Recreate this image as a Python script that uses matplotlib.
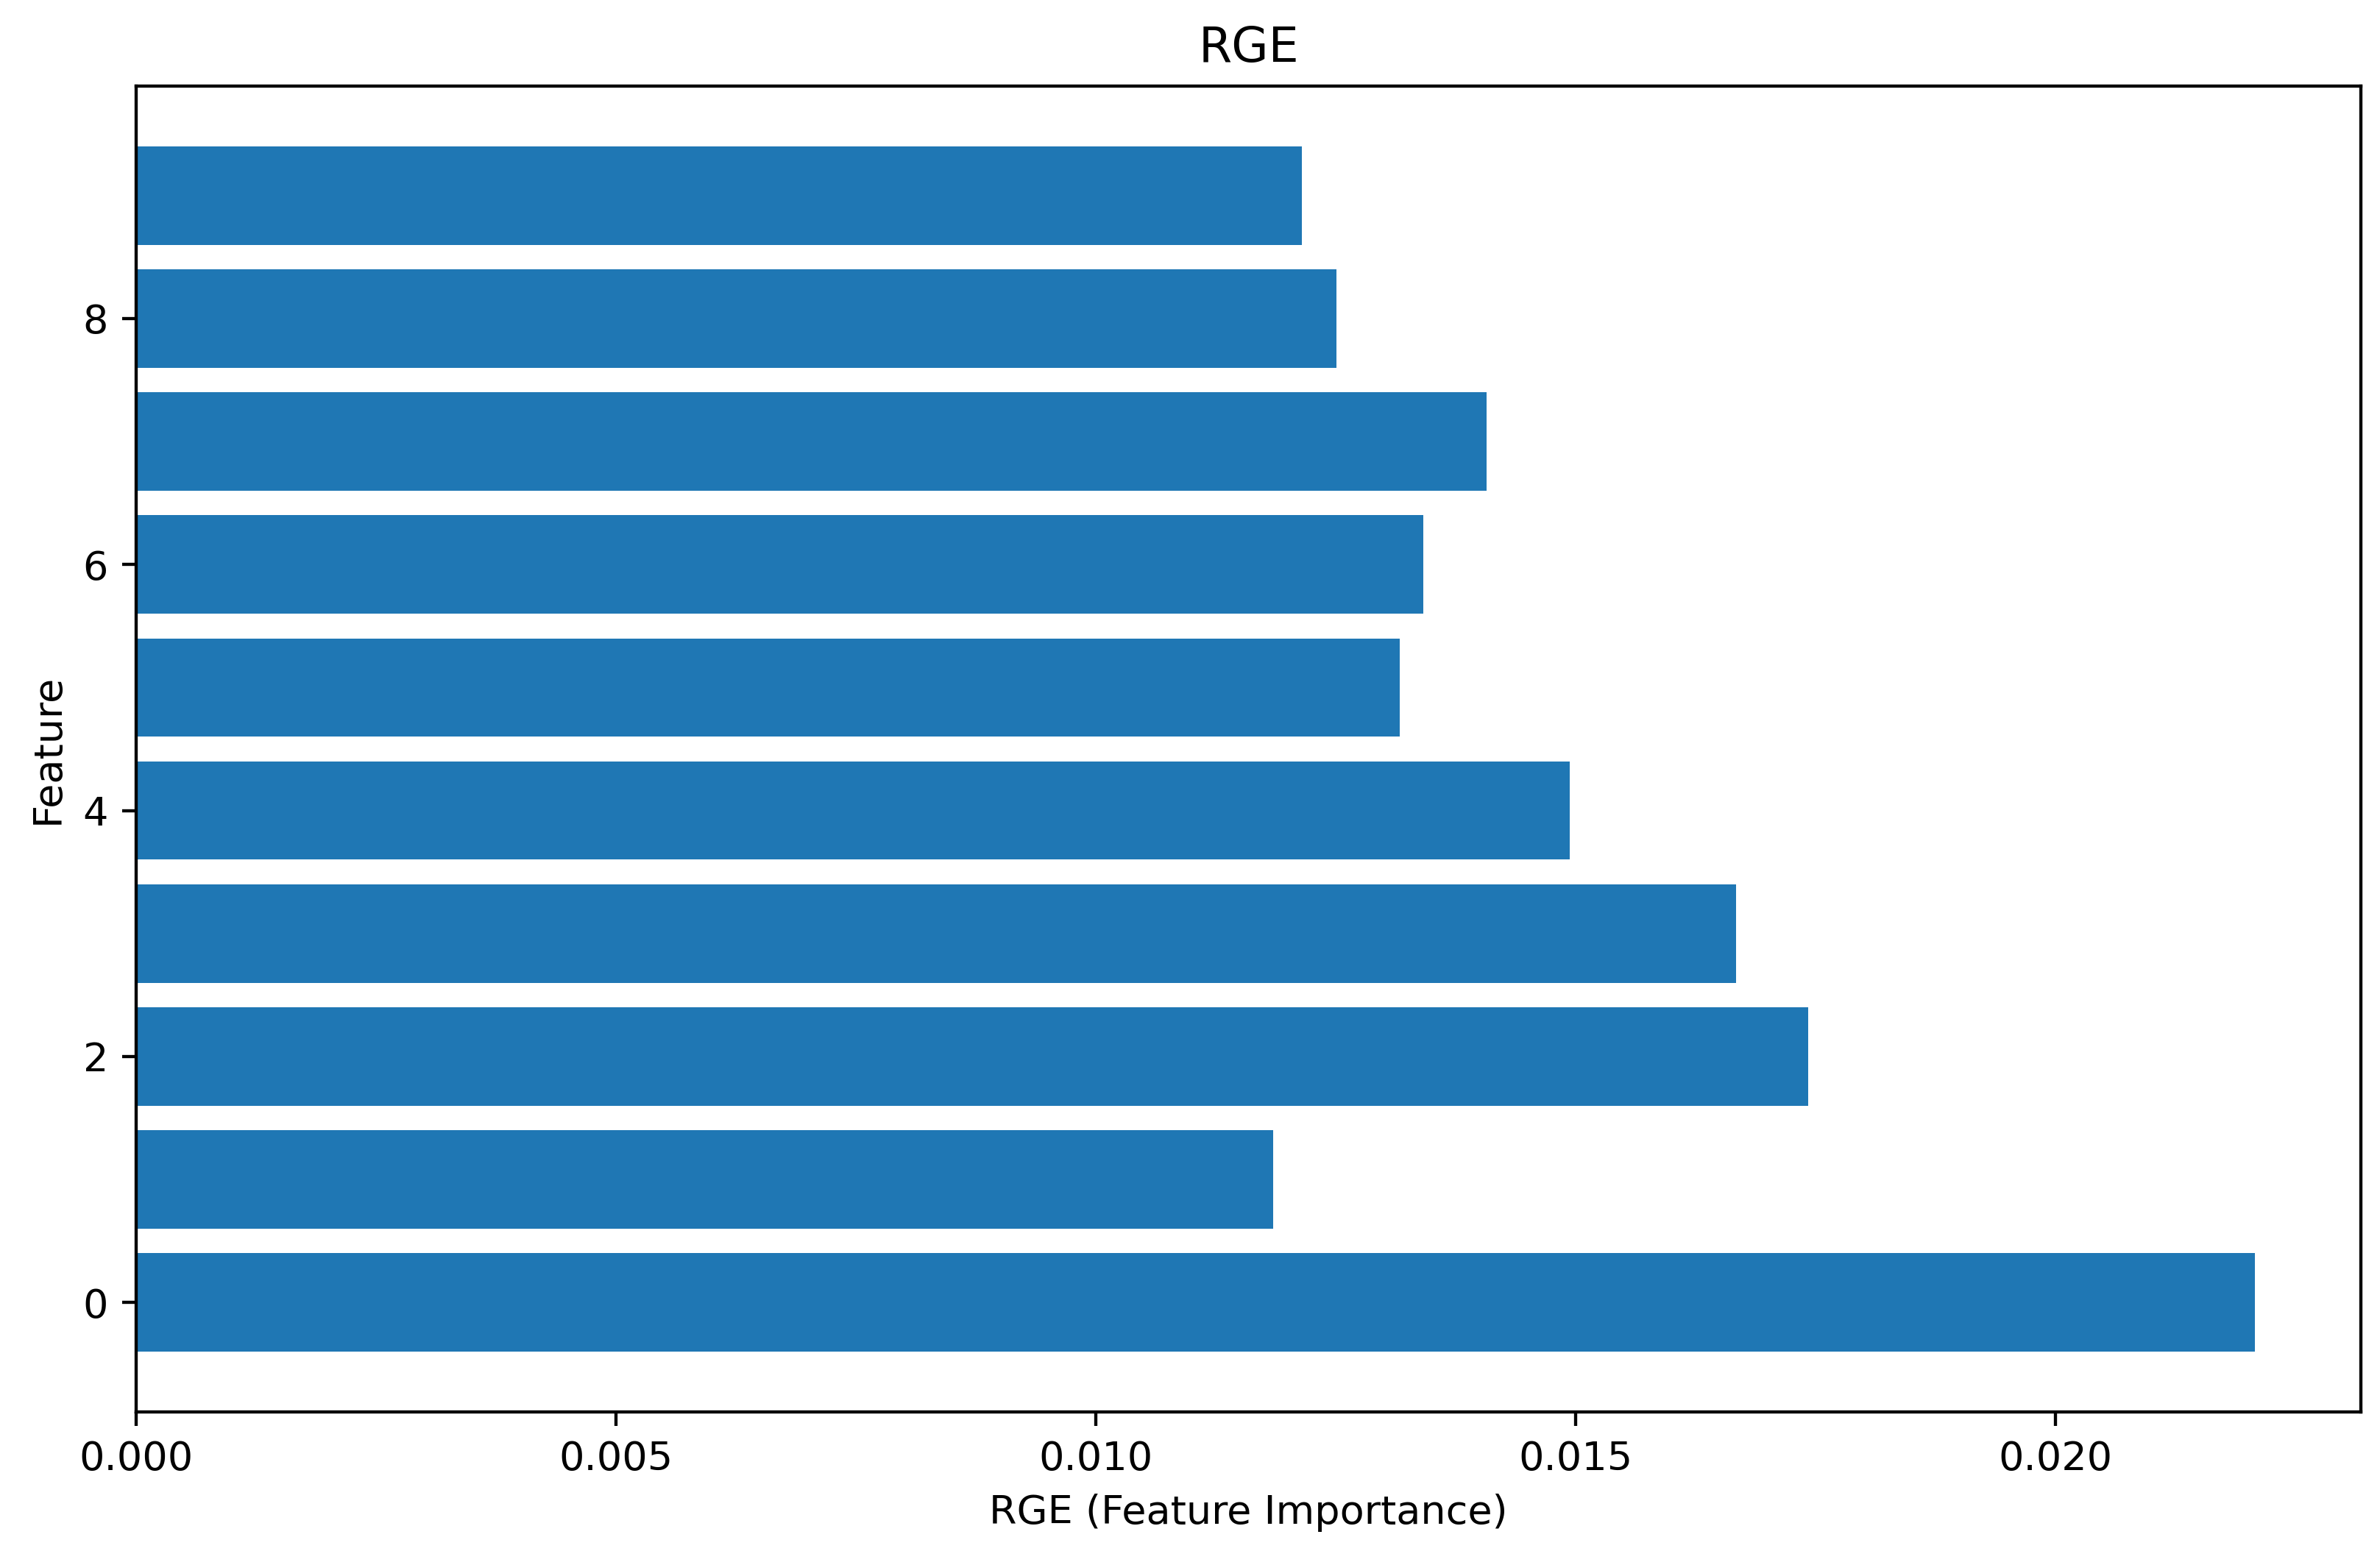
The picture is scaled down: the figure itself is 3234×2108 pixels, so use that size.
import matplotlib
matplotlib.use("Agg")
import matplotlib.pyplot as plt
import numpy as np

# feature index -> importance
features = np.arange(10)
importance = [0.02208, 0.01185, 0.01742, 0.01667, 0.01494,
              0.01317, 0.01341, 0.01407, 0.01251, 0.01215]

dpi = 390
fig = plt.figure(figsize=(3234 / dpi, 2108 / dpi), dpi=dpi)
ax = fig.add_axes([0.0572, 0.0897, 0.9348, 0.8548])

ax.barh(features, importance, color='#1f77b4')
ax.set_title('RGE')
ax.set_xlabel('RGE (Feature Importance)')
ax.set_ylabel('Feature')

fig.savefig('out.png', dpi=dpi)
